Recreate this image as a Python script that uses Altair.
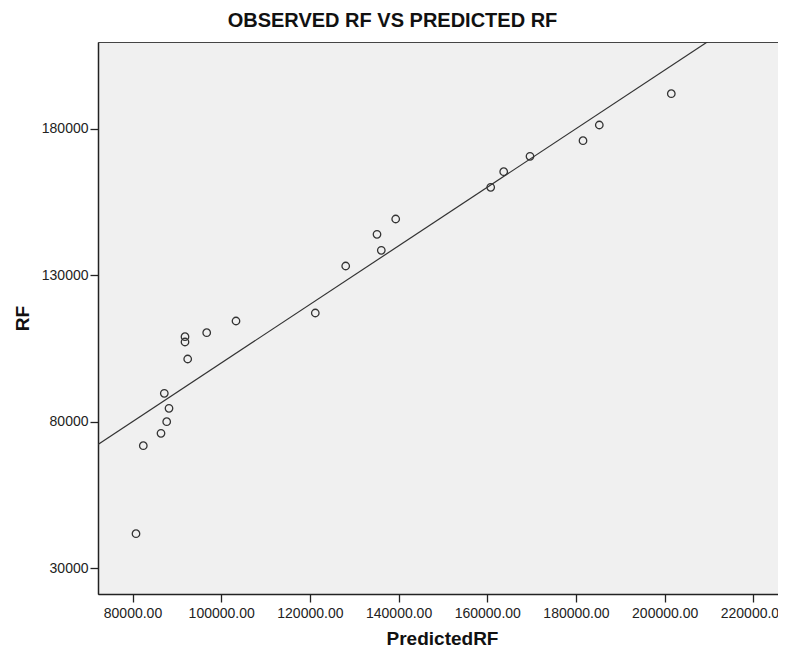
import altair as alt
import pandas as pd

# Data
predicted_rf = [80789, 82435, 86427, 87712, 88231, 87171, 92448, 91839, 91839, 96732,
                103339, 121221, 128077, 136104, 135135, 139352, 160774, 163705, 169636,
                181588, 185263, 201499]
observed_rf = [41739, 71782, 76015, 79975, 84550, 89671, 101381, 107185, 108994, 110360,
               114354, 117086, 133131, 138491, 143954, 149177, 159999, 165325, 170583,
               175909, 181269, 191955]

# Fit line: observed = 1.0 * predicted + 0
fit_slope = 1.0
fit_intercept = 0.0

x_ticks = [80000, 100000, 120000, 140000, 160000, 180000, 200000, 220000]
y_ticks = [30000, 80000, 130000, 180000]
x_domain = [72220, 225560]
y_domain = [21152, 209605]
chart_title = ["OBSERVED RF VS PREDICTED RF"]

points = pd.DataFrame({"PredictedRF": predicted_rf, "RF": observed_rf})
fit_x = [x_domain[0], x_domain[1]]
fit = pd.DataFrame({"PredictedRF": fit_x,
                    "RF": [fit_slope * v + fit_intercept for v in fit_x]})
title_df = pd.DataFrame({"t": chart_title})

FONT = "Liberation Sans"

xenc = alt.X("PredictedRF:Q",
             scale=alt.Scale(domain=x_domain, nice=False, zero=False),
             axis=alt.Axis(values=x_ticks, format=".2f", title="PredictedRF",
                           titleX=344, titleY=50, titleBaseline="alphabetic",
                           labelPadding=4))
yenc = alt.Y("RF:Q",
             scale=alt.Scale(domain=y_domain, nice=False, zero=False),
             axis=alt.Axis(values=y_ticks, format="d", title="RF",
                           titleX=-70, titleBaseline="alphabetic", labelPadding=2))

line = alt.Chart(fit).mark_line(color="#333333", strokeWidth=1.2, clip=True).encode(
    x=xenc, y=yenc)

pts = alt.Chart(points).mark_point(shape="circle", filled=False, size=56,
                                   color="#333333", strokeWidth=1.3, opacity=1).encode(
    x="PredictedRF:Q", y="RF:Q")

title = alt.Chart(title_df).mark_text(
    font=FONT, fontSize=20, fontWeight="bold", color="#111111",
    align="center", baseline="alphabetic"
).encode(text="t:N", x=alt.value(294.5), y=alt.value(-14.7))

chart = alt.layer(line, pts, title).properties(
    width=680,
    height=552,
    autosize=alt.AutoSizeParams(type="none"),
    padding={"left": 90, "top": 34, "right": 0, "bottom": 53},
).configure(background="white").configure_view(
    fill="#F0F0F0", stroke="#444444", strokeWidth=1
).configure_axis(
    grid=False, domainColor="#222222", domainWidth=1.5, tickColor="#222222",
    tickWidth=1.3, tickSize=8, labelFont=FONT, labelFontSize=14, labelColor="#222222",
    titleFont=FONT, titleFontSize=19, titleFontWeight="bold", titleColor="#111111"
)

chart.save("out.html", embed_options={"renderer": "svg", "actions": False})
